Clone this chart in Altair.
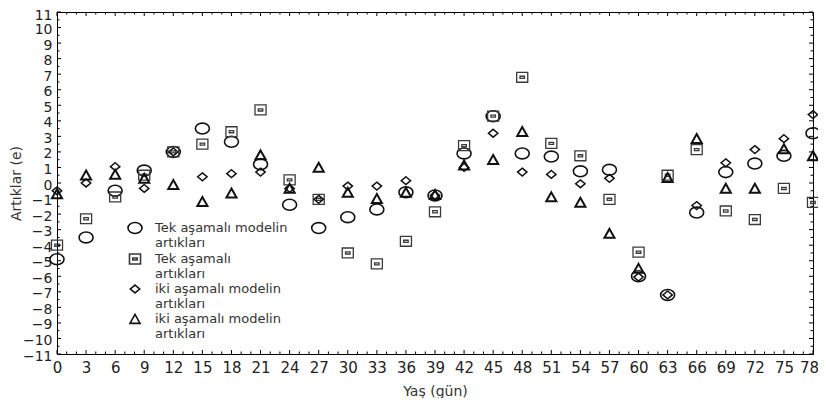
import json
import altair as alt
import pandas as pd

# ---- data ----
ages = list(range(0, 79, 3))
tek_model = [-4.9, -3.5, -0.5, 0.8, 2.0, 3.5, 2.65, 1.2, -1.4, -2.9, -2.2, -1.7, -0.6, -0.8,
             1.9, 4.3, 1.9, 1.7, 0.75, 0.85, -6.0, -7.2, -1.9, 0.7, 1.25, 1.75, 3.2]
tek = [-4.0, -2.3, -0.9, 0.5, 2.0, 2.5, 3.3, 4.7, 0.2, -1.05, -4.5, -5.2, -3.75, -1.85,
       2.4, 4.3, 6.8, 2.55, 1.75, -1.05, -4.45, 0.5, 2.15, -1.8, -2.35, -0.35, -1.25]
iki_model_a = [-0.5, 0.0, 1.05, -0.35, 2.0, 0.4, 0.6, 0.7, -0.35, -1.05, -0.2, -0.2, 0.15, -0.8,
               1.0, 3.2, 0.7, 0.55, -0.05, 0.3, -6.05, -7.2, -1.45, 1.3, 2.15, 2.85, 4.4]
iki_model_b = [-0.7, 0.5, 0.55, 0.3, -0.1, -1.2, -0.65, 1.8, -0.35, 1.0, -0.6, -1.0, -0.6, -0.75,
               1.15, 1.5, 3.3, -0.9, -1.25, -3.25, -5.5, 0.35, 2.85, -0.35, -0.35, 2.2, 1.75]

series_keys = ["s1", "s2", "s3", "s4"]
series_labels = ["Tek aşamalı modelin|artıkları", "Tek aşamalı|artıkları",
                 "iki aşamalı modelin|artıkları", "iki aşamalı modelin|artıkları"]
series_values = [tek_model, tek, iki_model_a, iki_model_b]

y_labels = list(range(-11, 12))
y_major = [float(v) for v in range(-11, 12)]
y_minor = [v + 0.5 for v in range(-11, 11)]
x_major = list(range(0, 79, 3))
x_minor = [v for v in range(0, 79) if v % 3 != 0]

# ---- styles ----
shapes = [
    "M-1,0A1,0.78 0 1,1 1,0A1,0.78 0 1,1 -1,0Z",
    "M-0.79,-0.71H0.79V0.71H-0.79Z M-0.32,-0.15H0.32V0.15H-0.32Z",
    "M0,-0.56L0.67,0L0,0.56L-0.67,0Z",
    "M0,-0.66L0.72,0.62L-0.72,0.62Z",
]
# same symbols raised a little for the legend, so each sits level with its first label line
legend_shapes = [
    "M-1,-0.57A1,0.78 0 1,1 1,-0.57A1,0.78 0 1,1 -1,-0.57Z",
    "M-0.79,-1.28H0.79V0.14H-0.79Z M-0.32,-0.72H0.32V-0.42H-0.32Z",
    "M0,-1.13L0.67,-0.57L0,-0.01L-0.67,-0.57Z",
    "M0,-1.23L0.72,0.05L-0.72,0.05Z",
]
colors = ["#111111", "#3a3a3a", "#111111", "#111111"]
widths = [1.6, 1.3, 1.5, 2.0]

rows = []
for key, vals in zip(series_keys, series_values):
    for a, v in zip(ages, vals):
        rows.append({"age": a, "resid": v, "series": key})
df = pd.DataFrame(rows)

x_scale = alt.Scale(domain=[0, 78], nice=False, zero=False)
y_scale = alt.Scale(domain=[-11, 11], nice=False, zero=False)

label_expr = ("split(" + json.dumps(series_labels, ensure_ascii=False) + "[indexof("
              + json.dumps(series_keys) + ", datum.label)], '|')")

legend = alt.Legend(title=None, labelExpr=label_expr)

W, H = 756, 342

x_axis = alt.Axis(values=x_major, title="Yaş (gün)", labelFontSize=15, labelPadding=6,
                  labelOffset={"expr": "datum.value == 78 ? -4 : 0"}, labelOverlap=False,
                  titleFontSize=14, titlePadding=9, labelFlush=False)
y_axis = alt.Axis(values=y_labels, title="Artıklar (e)", labelFontSize=14, labelPadding=5,
                  labelOffset={"expr": "datum.value == 11 ? 3 : 2"}, labelOverlap=False,
                  titleFontSize=14, titleX=-41, titleY=H / 2, titleAngle=270,
                  titleBaseline="middle", titleAlign="center")

point_layers = []
for key, shp, col, w in zip(series_keys, shapes, colors, widths):
    point_layers.append(
        alt.Chart(df).transform_filter(alt.datum.series == key)
        .mark_point(filled=False, size=196, opacity=1, strokeWidth=w, shape=shp, color=col)
        .encode(
            x=alt.X("age:Q", scale=x_scale, axis=x_axis),
            y=alt.Y("resid:Q", scale=y_scale, axis=y_axis),
        )
    )

# legend-only layer (no rows pass the filter; the legend comes from the scale domain)
legend_layer = (
    alt.Chart(df).transform_filter(alt.datum.age < -100)
    .mark_point(filled=False, size=196, opacity=1, strokeWidth=1.6)
    .encode(
        x=alt.X("age:Q", scale=x_scale, axis=x_axis),
        y=alt.Y("resid:Q", scale=y_scale, axis=y_axis),
        shape=alt.Shape("series:N", scale=alt.Scale(domain=series_keys, range=legend_shapes), legend=legend),
        color=alt.Color("series:N", scale=alt.Scale(domain=series_keys, range=colors), legend=legend),
    )
)


def tick_layers(values, axis_ch, length):
    out = []
    if axis_ch == "y":
        d = pd.DataFrame({"resid": values})
        base = alt.Chart(d).mark_rule(color="#000000", strokeWidth=1)
        enc = alt.Y("resid:Q", scale=y_scale, axis=y_axis)
        out.append(base.encode(y=enc, x=alt.value(0), x2=alt.value(length)))
        out.append(base.encode(y=enc, x=alt.value(W), x2=alt.value(W - length)))
    else:
        d = pd.DataFrame({"age": values})
        base = alt.Chart(d).mark_rule(color="#000000", strokeWidth=1)
        enc = alt.X("age:Q", scale=x_scale, axis=x_axis)
        out.append(base.encode(x=enc, y=alt.value(H), y2=alt.value(H - length)))
        out.append(base.encode(x=enc, y=alt.value(0), y2=alt.value(length)))
    return out


ticks = (tick_layers(y_major, "y", 4) + tick_layers(y_minor, "y", 2.5)
         + tick_layers(x_major, "x", 4) + tick_layers(x_minor, "x", 2.5))

chart = (
    alt.layer(legend_layer, *point_layers, *ticks)
    .properties(width=W, height=H, autosize="none",
                padding={"left": 49, "top": 4, "right": 5, "bottom": 44})
    .configure_view(stroke="#000000", strokeWidth=1)
    .configure_axis(grid=False, domain=False, ticks=False, labelFont="DejaVu Sans",
                    titleFont="DejaVu Sans", labelColor="#222222", titleColor="#333333",
                    titleFontWeight="normal")
    .configure_legend(orient="none", legendX=70, legendY=212, padding=0,
                      labelFont="DejaVu Sans", labelFontSize=13, labelColor="#333333",
                      symbolSize=196, symbolStrokeWidth=1.6, rowPadding=0, labelOffset=12,
                      labelBaseline="alphabetic", labelLimit=300)
)

chart.save("out.html", embed_options={"renderer": "svg", "actions": False})
